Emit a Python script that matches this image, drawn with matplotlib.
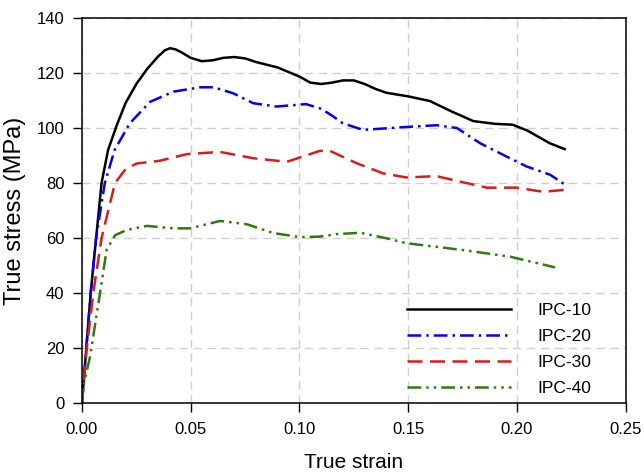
import matplotlib.pyplot as plt

plt.rcParams['font.family'] = ['Liberation Sans', 'DejaVu Sans']

# IPC-10
strain_10 = [0, 0.002, 0.004, 0.0065, 0.009, 0.012, 0.016, 0.02, 0.025, 0.03, 0.035, 0.038,
             0.0405, 0.043, 0.046, 0.05, 0.055, 0.06, 0.065, 0.07, 0.075, 0.08, 0.09, 0.1,
             0.105, 0.11, 0.115, 0.12, 0.125, 0.13, 0.135, 0.14, 0.15, 0.16, 0.17, 0.18,
             0.19, 0.198, 0.205, 0.215, 0.222]
stress_10 = [0, 20, 40, 60, 80, 92, 101, 109, 116, 121.5, 126, 128.2,
             129, 128.6, 127.4, 125.5, 124.3, 124.6, 125.5, 125.8, 125.3, 124, 122, 118.7,
             116.5, 116, 116.5, 117.3, 117.3, 116, 114.2, 112.8, 111.5, 109.8, 106, 102.5,
             101.5, 101.2, 99, 94.5, 92.3]

# IPC-20
strain_20 = [0, 0.002, 0.004, 0.0065, 0.0105, 0.015, 0.022, 0.0313, 0.042, 0.0543, 0.0605,
             0.0696, 0.0788, 0.0895, 0.097, 0.103, 0.11, 0.115, 0.12, 0.1293, 0.1477, 0.163,
             0.1724, 0.183, 0.1953, 0.2045, 0.2153, 0.222]
stress_20 = [0, 20, 40, 60, 80, 92, 101.7, 109.5, 113.2, 114.8, 114.8,
             112.6, 109, 107.8, 108.3, 108.7, 107, 104.5, 101.7, 99.3, 100.3, 101,
             100, 94.5, 89.6, 86, 83, 79.5]

# IPC-30
strain_30 = [0, 0.0022, 0.0052, 0.009, 0.0152, 0.02, 0.0252, 0.0359, 0.0482, 0.0635, 0.0788,
             0.0942, 0.1095, 0.114, 0.1263, 0.1385, 0.1493, 0.163, 0.1739, 0.1862, 0.2,
             0.212, 0.222]
stress_30 = [0, 20, 40, 60, 80, 85, 87.1, 88.1, 90.5, 91.3, 89,
             87.7, 91.7, 91.7, 87.2, 83.5, 82, 82.5, 80.5, 78.3, 78.3,
             76.8, 77.5]

# IPC-40
strain_40 = [0, 0.0006, 0.0037, 0.0083, 0.0113, 0.0152, 0.0205, 0.0298, 0.042, 0.0497, 0.0635,
             0.0758, 0.088, 0.1003, 0.1095, 0.117, 0.128, 0.14, 0.1493, 0.1754, 0.1969,
             0.2176]
stress_40 = [0, 6, 16.8, 40, 55.6, 61, 62.9, 64.4, 63.5, 63.5, 66.2,
             65, 61.8, 60.3, 60.5, 61.4, 61.9, 59.9, 58.1, 55.6, 53.2,
             49.3]

fig = plt.figure(figsize=(6.44, 4.72), dpi=100)
ax = fig.add_axes([0.1273, 0.1462, 0.8441, 0.8157])

ax.plot(strain_10, stress_10, color='black', lw=1.8, label='IPC-10')
ax.plot(strain_20, stress_20, color='#0000ff', lw=1.8, ls=(0, (5.5, 2, 1, 2)), label='IPC-20')
ax.plot(strain_30, stress_30, color='#dd1a1a', lw=1.8, ls=(0, (6, 3)), label='IPC-30')
ax.plot(strain_40, stress_40, color='#2e7a12', lw=1.8, ls=(0, (5.5, 2, 1, 2, 1, 2)), label='IPC-40')

ax.set_xlim(0, 0.25)
ax.set_ylim(0, 140)
ax.set_xticks([0, 0.05, 0.10, 0.15, 0.20, 0.25])
ax.set_xticklabels(['0.00', '0.05', '0.10', '0.15', '0.20', '0.25'])
ax.set_yticks(range(0, 141, 20))
ax.tick_params(direction='out', length=6.5, width=1, labelsize=12)
ax.tick_params(axis='x', pad=7.5)
ax.tick_params(axis='y', pad=6)
ax.grid(True, color='#cfcfcf', ls=(0, (6, 4)), lw=1)
ax.set_axisbelow(True)
for s in ax.spines.values():
    s.set_linewidth(1.1)

ax.set_xlabel('True strain', fontsize=15, labelpad=11)
ax.set_ylabel('True stress (MPa)', fontsize=17, labelpad=8)

ax.legend(loc='lower left', frameon=False, fontsize=12.5, handlelength=6.0,
          handletextpad=1.5, labelspacing=0.62, borderaxespad=0,
          bbox_to_anchor=(0.585, 0.0))

fig.savefig('out.png', dpi=100)
